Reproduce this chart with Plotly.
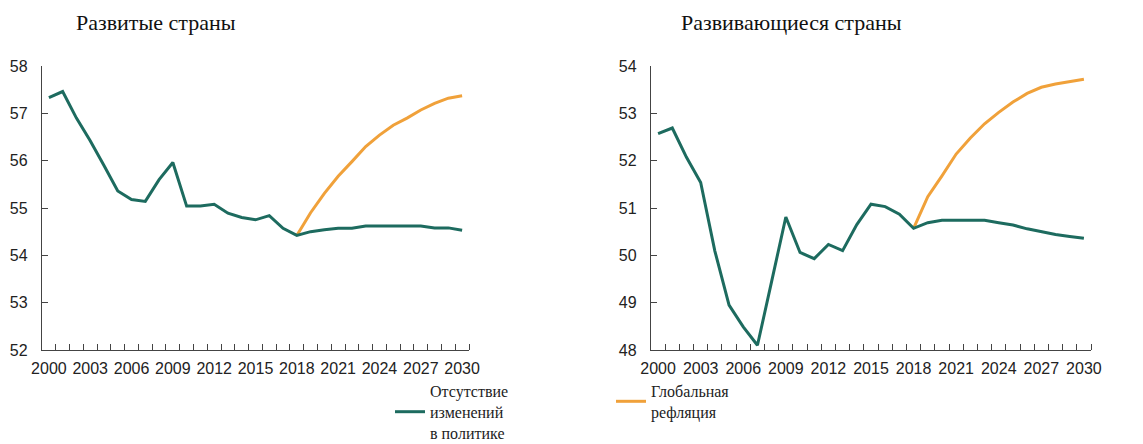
import plotly.graph_objects as go

years = list(range(2000, 2031))
tick_years = list(range(2000, 2031, 3))

dev_base = [57.33, 57.46, 56.9, 56.42, 55.9, 55.36, 55.18, 55.14, 55.6, 55.96,
            55.04, 55.04, 55.08, 54.89, 54.8, 54.75, 54.84, 54.57, 54.42, 54.5,
            54.54, 54.57, 54.57, 54.62, 54.62, 54.62, 54.62, 54.62, 54.58, 54.58, 54.53]
dev_refl_years = list(range(2018, 2031))
dev_refl = [54.42, 54.9, 55.31, 55.67, 55.98, 56.3, 56.54, 56.75, 56.9, 57.07, 57.21, 57.32, 57.37]

emg_base = [52.57, 52.69, 52.07, 51.54, 50.09, 48.95, 48.49, 48.1, 49.45, 50.81,
            50.06, 49.93, 50.23, 50.1, 50.65, 51.08, 51.03, 50.87, 50.57, 50.69,
            50.74, 50.74, 50.74, 50.74, 50.69, 50.64, 50.56, 50.5, 50.44, 50.4, 50.36]
emg_refl_years = list(range(2018, 2031))
emg_refl = [50.57, 51.24, 51.68, 52.14, 52.48, 52.78, 53.02, 53.24, 53.42, 53.55, 53.62, 53.67, 53.72]

GREEN = "#1d6b5f"
ORANGE = "#f0a13a"
W, H = 1143, 444

fig = go.Figure()
fig.add_trace(go.Scatter(x=dev_refl_years, y=dev_refl, mode="lines", line=dict(color=ORANGE, width=3),
                         name="Глобальная<br>рефляция", xaxis="x", yaxis="y", legendrank=2))
fig.add_trace(go.Scatter(x=years, y=dev_base, mode="lines", line=dict(color=GREEN, width=3),
                         name="Отсутствие<br>изменений<br>в политике", xaxis="x", yaxis="y", legendrank=1))
fig.add_trace(go.Scatter(x=emg_refl_years, y=emg_refl, mode="lines", line=dict(color=ORANGE, width=3),
                         showlegend=False, xaxis="x2", yaxis="y2"))
fig.add_trace(go.Scatter(x=years, y=emg_base, mode="lines", line=dict(color=GREEN, width=3),
                         showlegend=False, xaxis="x2", yaxis="y2"))

def px_x(p):
    return p / W

def px_y(p):
    return 1 - p / H

tickfont = dict(family="Liberation Sans, Arial, sans-serif", size=16, color="#222")
minor_vals = [y + 0.5 for y in years]

xcommon = dict(range=[1999.5, 2030.5], tickmode="array", tickvals=tick_years,
               ticktext=[str(t) for t in tick_years], ticks="", showline=True,
               linecolor="#444", linewidth=1.3, showgrid=False, zeroline=False,
               tickfont=tickfont, automargin=False, ticklabelstandoff=4,
               minor=dict(tickmode="array", tickvals=minor_vals, ticks="inside",
                          ticklen=6, tickcolor="#444", showgrid=False))
ycommon = dict(dtick=1, ticks="inside", ticklen=6, tickcolor="#444", showline=True,
               linecolor="#444", linewidth=1.3, showgrid=False, zeroline=False,
               tickfont=tickfont, ticklabelstandoff=10, automargin=False)

ydom = [px_y(350), px_y(66)]
fig.update_layout(
    template="none",
    width=W, height=H,
    margin=dict(l=0, r=0, t=0, b=0, autoexpand=False),
    paper_bgcolor="white", plot_bgcolor="white",
    xaxis=dict(domain=[px_x(42), px_x(469)], anchor="y", **xcommon),
    yaxis=dict(domain=ydom, range=[52, 58], anchor="x", **ycommon),
    xaxis2=dict(domain=[px_x(651), px_x(1091)], anchor="y2", **xcommon),
    yaxis2=dict(domain=ydom, range=[48, 54], anchor="x2", **ycommon),
    showlegend=True,
    legend=dict(orientation="h", x=px_x(390), y=px_y(374), xanchor="left", yanchor="top",
                bgcolor="rgba(0,0,0,0)",
                font=dict(family="Liberation Serif, Times New Roman, serif", size=16, color="#222"),
                entrywidth=176, entrywidthmode="pixels", traceorder="normal"),
    annotations=[
        dict(text="Развитые страны", x=px_x(74), y=px_y(22), xref="paper", yref="paper",
             xanchor="left", yanchor="middle", showarrow=False,
             font=dict(family="Liberation Serif, Times New Roman, serif", size=22, color="#111")),
        dict(text="Развивающиеся страны", x=px_x(679), y=px_y(22), xref="paper", yref="paper",
             xanchor="left", yanchor="middle", showarrow=False,
             font=dict(family="Liberation Serif, Times New Roman, serif", size=22, color="#111")),
    ],
)

fig.write_html("out.html", config={"displayModeBar": False},
               post_script="document.body.style.margin='0';document.body.style.overflow='hidden';")
